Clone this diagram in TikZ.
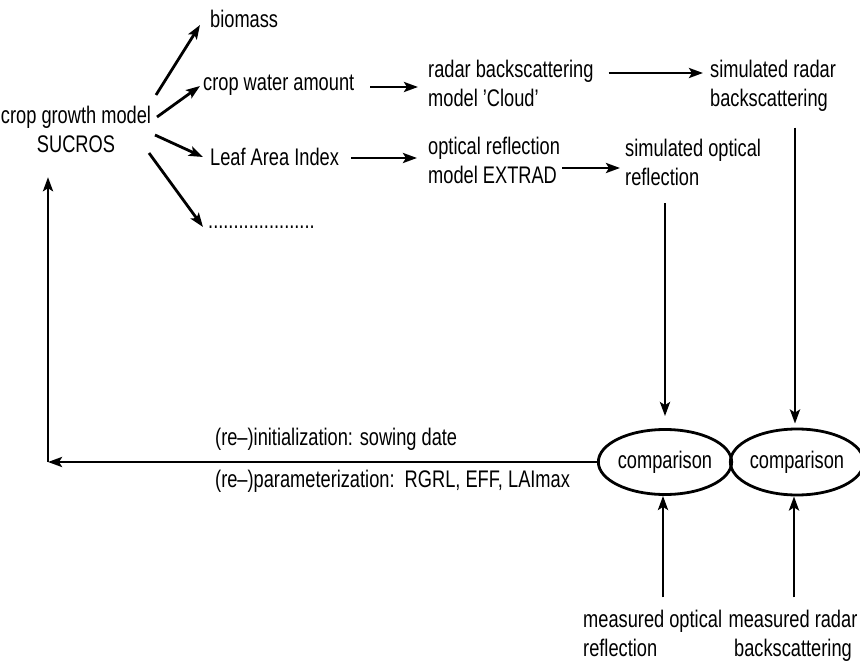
\documentclass[tikz,border=0pt]{standalone}
\usepackage{fontspec}
\setmainfont{Liberation Sans}[FakeStretch=0.76]
\usetikzlibrary{arrows.meta,calc,shapes.geometric}
\begin{document}
\begin{tikzpicture}[x=1pt,y=-1pt,
  lbl/.style={inner sep=0pt, font=\fontsize{24}{29}\selectfont},
  ln/.style={line width=2.8pt, black},
  arr/.style={ln, -{Stealth[length=14pt,width=10pt,inset=3pt]}},
  cmp/.style={ellipse, draw, line width=2.8pt, inner sep=0pt, font=\fontsize{24}{29}\selectfont}]
\useasboundingbox[fill=white] (0,0) rectangle (860,666);
% nodes
\node[lbl,align=center] (sucros) at (76,132) {crop growth model\strut\\SUCROS\strut};
\node[lbl,anchor=west] (biomass) at (210,22) {biomass\strut};
\node[lbl,anchor=west] (water) at (203,85) {crop water amount\strut};
\node[lbl,anchor=west] (lai) at (210,160) {Leaf Area Index\strut};
\node[lbl,anchor=west] (dots) at (208,223) {.....................\strut};
\node[lbl,anchor=west,align=left] (radar) at (428,86) {radar backscattering\strut\\model 'Cloud'\strut};
\node[lbl,anchor=west,align=left] (optical) at (428,163) {optical reflection\strut\\model EXTRAD\strut};
\node[lbl,anchor=west,align=left] (simradar) at (710,86.5) {simulated radar\strut\\backscattering\strut};
\node[lbl,anchor=west,align=left] (simopt) at (625,165) {simulated optical\strut\\reflection\strut};
\node[cmp,minimum width=105pt,minimum height=65pt] (comp1) at (665,462) {comparison};
\node[cmp,minimum width=110pt,minimum height=66pt] (comp2) at (797,462) {comparison};
\node[lbl,anchor=west,align=left] (measopt) at (583,636.5) {measured optical\strut\\reflection\strut};
\node[lbl,align=center] (measrad) at (793,636.5) {measured radar\strut\\backscattering\strut};
\node[lbl,anchor=west] (init) at (215,440) {(re--)initialization: sowing date\strut};
\node[lbl,anchor=west] (param) at (215,482) {(re--)parameterization:\ \ RGRL, EFF, LAImax\strut};
\coordinate (corner) at (48,462);
% connectors
\draw[arr] ($(sucros.center)+(80,-37)$) -- ($(biomass.west)+(-10,3)$);
\draw[arr] ($(sucros.center)+(81,-15)$) -- ($(water.west)+(-3,1)$);
\draw[arr] ($(sucros.center)+(79,3)$) -- ($(lai.west)+(-7,-3)$);
\draw[arr] ($(sucros.center)+(73,21)$) -- ($(dots.west)+(-5,4)$);
\draw[arr] ($(water.east)+(16,2)$) -- ($(radar.west |- water.east)+(-10,2)$);
\draw[arr] ($(lai.east)+(12,-2)$) -- ($(optical.west |- lai.east)+(-11,-2)$);
\draw[arr] ($(radar.east)+(15,-13)$) -- ($(simradar.west |- radar.east)+(-7,-13)$);
\draw[arr] ($(optical.east)+(2,5)$) -- ($(simopt.west |- optical.east)+(-5,5)$);
\draw[arr] ($(comp1.center |- simopt.south)+(0,9)$) -- ($(comp1.north)+(0,-12)$);
\draw[arr] ($(comp2.center |- simradar.south)+(-2,12)$) -- ($(comp2.north)+(-2,-4)$);
\draw[ln] (comp1) -- (comp2);
\draw[arr] (comp1.west) -- (corner);
\draw[arr] (corner) -- ($(corner |- sucros.south)+(0,16)$);
\draw[arr] ($(comp1.center |- measopt.north)+(-2,-10)$) -- ($(comp1.south)+(-2,0)$);
\draw[arr] ($(comp2.center |- measrad.north)+(-3,-10)$) -- ($(comp2.south)+(-3,0)$);
\end{tikzpicture}
\end{document}
